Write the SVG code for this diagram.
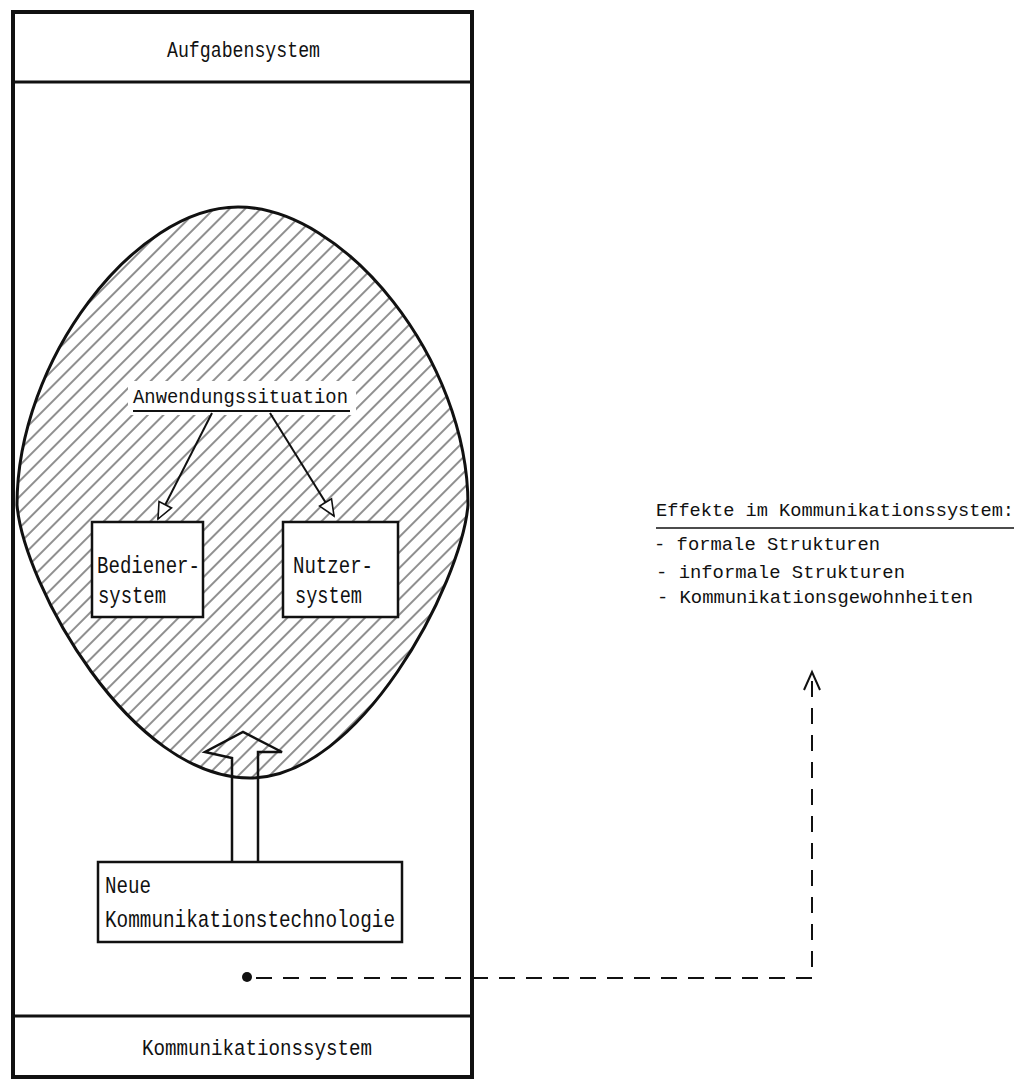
<svg xmlns="http://www.w3.org/2000/svg" width="1028" height="1080" viewBox="0 0 1028 1080">
<style>
text{font-family:"Liberation Mono","DejaVu Sans Mono",monospace;fill:#111}
.big{font-size:22px}
.box{font-size:24px}
.lbl{font-size:21px}
.rt{font-size:19px}
.frame{fill:none;stroke:#111;stroke-width:4}
.band{stroke:#111;stroke-width:3}
.node{fill:#fff;stroke:#111;stroke-width:2.5}
.conn{fill:none;stroke:#111;stroke-width:2}
</style>
<defs>
<pattern id="hatch" patternUnits="userSpaceOnUse" width="11" height="11" patternTransform="rotate(45)">
<line x1="2" y1="-1" x2="2" y2="12" stroke="#333" stroke-width="1.1"/>
</pattern>
<marker id="head" viewBox="-20 -10 22 20" refX="0" refY="0" markerWidth="22" markerHeight="20" markerUnits="userSpaceOnUse" orient="auto">
<path d="M0,0 L-16,-7 L-16,7 Z" fill="#fff" stroke="#111" stroke-width="1.6"/>
</marker>
</defs>

<g id="aufgabensystem">
<rect x="13" y="12" width="459" height="1065" class="frame"/>
<line x1="13" y1="82" x2="472" y2="82" class="band"/>
<text class="big" x="167" y="57" textLength="153" lengthAdjust="spacingAndGlyphs">Aufgabensystem</text>
</g>

<g id="kommunikationssystem">
<line x1="13" y1="1016" x2="472" y2="1016" class="band"/>
<text class="big" x="142" y="1055" textLength="230" lengthAdjust="spacingAndGlyphs">Kommunikationssystem</text>
</g>

<g id="anwendungsbereich">
<path d="M238,207 C345,207 468,360 468,505 C461,585 360,778 250,778 C130,778 24,585 17,505 C17,360 135,207 238,207 Z" fill="url(#hatch)" stroke="#111" stroke-width="3"/>
</g>

<g id="anwendungssituation">
<rect x="128" y="381" width="228" height="34" fill="#fff"/>
<text class="lbl" x="133" y="403" textLength="215" lengthAdjust="spacingAndGlyphs">Anwendungssituation</text>
<line x1="133" y1="411" x2="350" y2="411" stroke="#111" stroke-width="2"/>
</g>

<g id="bedienersystem">
<rect x="92" y="522" width="111" height="95" class="node"/>
<text class="box" x="97" y="573" textLength="103" lengthAdjust="spacingAndGlyphs">Bediener-</text>
<text class="box" x="98" y="603" textLength="68" lengthAdjust="spacingAndGlyphs">system</text>
</g>

<g id="nutzersystem">
<rect x="283" y="522" width="115" height="95" class="node"/>
<text class="box" x="293" y="573" textLength="80" lengthAdjust="spacingAndGlyphs">Nutzer-</text>
<text class="box" x="295" y="603" textLength="67" lengthAdjust="spacingAndGlyphs">system</text>
</g>

<g id="neue-kommunikationstechnologie">
<rect x="98" y="862" width="304" height="80" class="node"/>
<text class="box" x="105" y="893" textLength="46" lengthAdjust="spacingAndGlyphs">Neue</text>
<text class="box" x="105" y="927" textLength="290" lengthAdjust="spacingAndGlyphs">Kommunikationstechnologie</text>
</g>

<g id="effekte">
<text class="rt" x="656" y="516" textLength="358" lengthAdjust="spacingAndGlyphs">Effekte im Kommunikationssystem:</text>
<line x1="656" y1="528" x2="1014" y2="528" stroke="#111" stroke-width="1.5"/>
<text class="rt" x="654" y="550" textLength="226" lengthAdjust="spacingAndGlyphs">- formale Strukturen</text>
<text class="rt" x="656" y="578" textLength="249" lengthAdjust="spacingAndGlyphs">- informale Strukturen</text>
<text class="rt" x="657" y="603" textLength="316" lengthAdjust="spacingAndGlyphs">- Kommunikationsgewohnheiten</text>
</g>

<g id="connectors">
<line x1="212" y1="413" x2="158" y2="519" class="conn" marker-end="url(#head)"/>
<line x1="270" y1="413" x2="334" y2="516" class="conn" marker-end="url(#head)"/>
<polyline points="232,862 232,758 205,752 243,732 282,752 258,752 258,862" fill="none" stroke="#111" stroke-width="2.5" stroke-linejoin="miter"/>
<circle cx="247" cy="977" r="5" fill="#111"/>
<polyline points="256,978 812,978 812,676" fill="none" stroke="#111" stroke-width="2" stroke-dasharray="16 11"/>
<polyline points="804,690 812,672 820,690" fill="none" stroke="#111" stroke-width="2"/>
</g>
</svg>
